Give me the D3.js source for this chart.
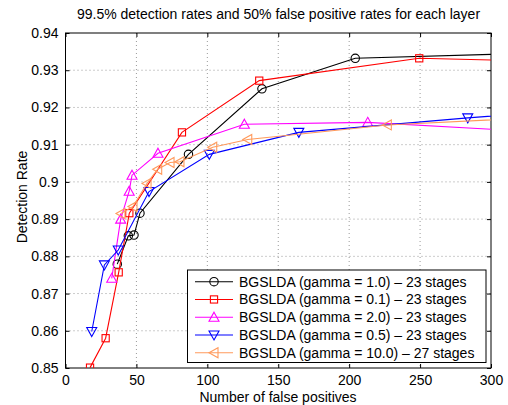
<!DOCTYPE html>
<html><head><meta charset="utf-8">
<script src="https://cdn.jsdelivr.net/npm/d3@7"></script>
<style>body{margin:0;background:#fff}svg{display:block}text{font-family:"Liberation Sans",Arial,sans-serif}</style>
</head><body><svg id="c" width="508" height="405"></svg>
<script>
const title = "99.5% detection rates and 50% false positive rates for each layer";
const xLabel = "Number of false positives";
const yLabel = "Detection Rate";
const xTicks = [0,50,100,150,200,250,300];
const yTicks = [0.85,0.86,0.87,0.88,0.89,0.9,0.91,0.92,0.93,0.94];
const seriesNames = ["BGSLDA (gamma = 1.0) \u2013 23 stages","BGSLDA (gamma = 0.1) \u2013 23 stages","BGSLDA (gamma = 2.0) \u2013 23 stages","BGSLDA (gamma = 0.5) \u2013 23 stages","BGSLDA (gamma = 10.0) \u2013 27 stages"];
const fpG10 = [36.5,44.3,48.3,52.5,86.7,138.5,204.3,330];
const drG10 = [0.8779,0.8855,0.8857,0.8916,0.9074,0.9250,0.9332,0.9346];
const fpG01 = [17.3,28.3,37.5,45.0,82.1,136.6,249.4,330];
const drG01 = [0.8501,0.8580,0.8757,0.8916,0.9133,0.9272,0.9332,0.9325];
const fpG20 = [32.6,38.9,44.9,46.9,65.2,126.1,213.1,330];
const drG20 = [0.8741,0.8900,0.8975,0.9018,0.9077,0.9155,0.9160,0.9135];
const fpG05 = [18.5,27.4,37.2,58.9,101.4,164.5,283.6,330];
const drG05 = [0.8598,0.8777,0.8817,0.8974,0.9074,0.9133,0.9172,0.9185];
const fpG100 = [39.1,47.6,57.5,65.0,73.7,80.7,103.8,128.5,226.9,330];
const drG100 = [0.8915,0.8934,0.8996,0.9034,0.9052,0.9054,0.9093,0.9114,0.9153,0.9172];

const colors = ["#000000","#ff0000","#ff00ff","#0000ff","#ff9a5c"];
const markers = ["circle","square","triUp","triDown","triLeft"];
const series = [[fpG10,drG10],[fpG01,drG01],[fpG20,drG20],[fpG05,drG05],[fpG100,drG100]];

const svg = d3.select("#c");
const L=65.5, R=491, T=33, B=368;
const FS = 14;
const x = d3.scaleLinear().domain([0,300]).range([L,R]);
const y = d3.scaleLinear().domain([0.85,0.94]).range([B,T]);

svg.append("defs").append("clipPath").attr("id","clip").append("rect")
  .attr("x",L).attr("y",T).attr("width",R-L).attr("height",B-T);

// grid
const g = svg.append("g");
xTicks.slice(1,-1).forEach(t=>g.append("line").attr("x1",x(t)).attr("x2",x(t)).attr("y1",T).attr("y2",B)
  .attr("stroke","#999").attr("stroke-width",1).attr("stroke-dasharray","1,3"));
yTicks.slice(1,-1).forEach(t=>g.append("line").attr("x1",L).attr("x2",R).attr("y1",y(t)).attr("y2",y(t))
  .attr("stroke","#999").attr("stroke-width",1).attr("stroke-dasharray","1,3"));

// axes
const ax = svg.append("g").attr("transform",`translate(0,${B})`).call(d3.axisBottom(x).tickValues(xTicks).tickSizeInner(-4).tickSizeOuter(0).tickPadding(7).tickFormat(d3.format("d")));
const axT = svg.append("g").attr("transform",`translate(0,${T})`).call(d3.axisTop(x).tickValues(xTicks).tickSizeInner(-4).tickSizeOuter(0).tickFormat(""));
const ay = svg.append("g").attr("transform",`translate(${L},0)`).call(d3.axisLeft(y).tickValues(yTicks).tickSizeInner(-4).tickSizeOuter(0).tickPadding(7).tickFormat(d=>d3.format("")(+d.toFixed(2))));
const ayR = svg.append("g").attr("transform",`translate(${R},0)`).call(d3.axisRight(y).tickValues(yTicks).tickSizeInner(-4).tickSizeOuter(0).tickFormat(""));
[ax,axT,ay,ayR].forEach(a=>{a.select(".domain").remove();a.selectAll("line").attr("stroke","#000");a.selectAll("text").attr("font-size",FS).attr("fill","#000").attr("font-family","Liberation Sans, Arial, sans-serif");});
svg.append("rect").attr("x",L).attr("y",T).attr("width",R-L).attr("height",B-T).attr("fill","none").attr("stroke","#000").attr("stroke-width",1);

function marker(sel,type,c){
  if(type==="circle") sel.append("circle").attr("r",4.2).attr("fill","none").attr("stroke",c);
  else if(type==="square") sel.append("rect").attr("x",-3.6).attr("y",-3.6).attr("width",7.2).attr("height",7.2).attr("fill","none").attr("stroke",c);
  else {
    const s=5;
    let p;
    if(type==="triUp") p=`M0,${-s}L${s},${s*0.8}L${-s},${s*0.8}Z`;
    else if(type==="triDown") p=`M0,${s}L${s},${-s*0.8}L${-s},${-s*0.8}Z`;
    else p=`M${-s},0L${s*0.8},${-s}L${s*0.8},${s}Z`;
    sel.append("path").attr("d",p).attr("fill","none").attr("stroke",c);
  }
}

const plot = svg.append("g").attr("clip-path","url(#clip)");
const line = d3.line().x(d=>x(d[0])).y(d=>y(d[1]));
series.forEach((s,i)=>{
  const pts = s[0].map((v,j)=>[v,s[1][j]]);
  plot.append("path").datum(pts).attr("d",line).attr("fill","none").attr("stroke",colors[i]).attr("stroke-width",1.1);
  pts.forEach(p=>{
    const m = plot.append("g").attr("transform",`translate(${x(p[0])},${y(p[1])})`).attr("stroke-width",1.1);
    marker(m,markers[i],colors[i]);
  });
});

// legend
const lg = svg.append("g");
lg.append("rect").attr("x",187.5).attr("y",270).attr("width",298.5).attr("height",92.5).attr("fill","#fff").attr("stroke","#000");
seriesNames.forEach((n,i)=>{
  const yy = 281.7 + i*17.75;
  lg.append("line").attr("x1",195).attr("x2",233).attr("y1",yy).attr("y2",yy).attr("stroke",colors[i]).attr("stroke-width",1.1);
  const m = lg.append("g").attr("transform",`translate(214,${yy})`).attr("stroke-width",1.1);
  marker(m,markers[i],colors[i]);
  lg.append("text").attr("x",239).attr("y",yy+5).attr("font-size",FS).text(n);
});

svg.append("text").attr("x",278.5).attr("y",19).attr("text-anchor","middle").attr("font-size",FS).text(title);
svg.append("text").attr("x",278).attr("y",402).attr("text-anchor","middle").attr("font-size",FS).text(xLabel);
svg.append("text").attr("transform","translate(26.5,197) rotate(-90)").attr("text-anchor","middle").attr("font-size",FS).text(yLabel);
</script></body></html>
